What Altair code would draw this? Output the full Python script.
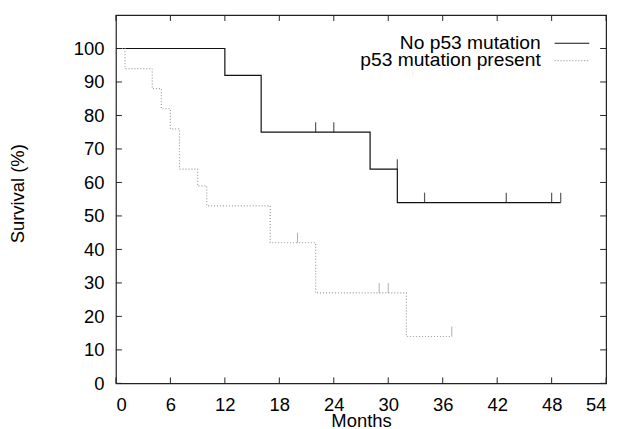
import altair as alt
import pandas as pd

# ---- data ----
x_ticks = [0, 6, 12, 18, 24, 30, 36, 42, 48, 54]
y_ticks = [0, 10, 20, 30, 40, 50, 60, 70, 80, 90, 100]
series = ["No p53 mutation", "p53 mutation present"]

no_t = [0, 12, 16, 28, 31, 49]
no_s = [100, 92, 75, 64, 54, 54]
no_cens_t = [22, 24, 31, 34, 43, 48, 49]
no_cens_s = [75, 75, 64, 54, 54, 54, 54]

mut_t = [0, 1, 4, 5, 6, 7, 9, 10, 17, 22, 32, 37]
mut_s = [100, 94, 88, 82, 76, 64, 59, 53, 42, 27, 14, 14]
mut_cens_t = [20, 29, 30, 37]
mut_cens_s = [42, 27, 27, 14]

W, H = 495, 372
FONT = "Liberation Sans"
FS = 18.6
FS_LEG = 19.4
C_SOLID = "#111111"
C_DOT = "#9a9a9a"

xs = alt.Scale(domain=[0, 54], nice=False, zero=False)
ys = alt.Scale(domain=[0, 110], nice=False, zero=False)
ax_x = alt.Axis(values=x_ticks, title="Months", titleY=29, labelPadding=12)
ax_y = alt.Axis(values=y_ticks, title="Survival (%)", titleX=-89, titleY=180, labelPadding=12)

def X(field):
    return alt.X(field, scale=xs, axis=ax_x)

def Y(field):
    return alt.Y(field, scale=ys, axis=ax_y)

df_no = pd.DataFrame({"t": no_t, "s": no_s})
df_mut = pd.DataFrame({"t": mut_t, "s": mut_s})
df_no_c = pd.DataFrame({"t": no_cens_t, "s": no_cens_s})
df_mut_c = pd.DataFrame({"t": mut_cens_t, "s": mut_cens_s})
df_xt = pd.DataFrame({"t": x_ticks})
df_yt = pd.DataFrame({"s": y_ticks})

line_no = alt.Chart(df_no).mark_line(
    interpolate="step-after", color=C_SOLID, strokeWidth=1.2
).encode(x=X("t:Q"), y=Y("s:Q"))

line_mut = alt.Chart(df_mut).mark_line(
    interpolate="step-after", color=C_DOT, strokeWidth=1.2, strokeDash=[1, 2]
).encode(x=X("t:Q"), y=Y("s:Q"))

cens_no = alt.Chart(df_no_c).mark_tick(
    orient="vertical", size=10, thickness=1.2, yOffset=-5, color=C_SOLID
).encode(x=X("t:Q"), y=Y("s:Q"))

cens_mut = alt.Chart(df_mut_c).mark_tick(
    orient="vertical", size=10, thickness=1, yOffset=-5, color=C_DOT, opacity=0.8
).encode(x=X("t:Q"), y=Y("s:Q"))

# inward tick marks on all four sides
xt_bottom = alt.Chart(df_xt).mark_rule(color="#222", strokeWidth=1).encode(
    x=X("t:Q"), y=alt.value(H), y2=alt.value(H - 6))
xt_top = alt.Chart(df_xt).mark_rule(color="#222", strokeWidth=1).encode(
    x=X("t:Q"), y=alt.value(0), y2=alt.value(6))
yt_left = alt.Chart(df_yt).mark_rule(color="#222", strokeWidth=1).encode(
    y=Y("s:Q"), x=alt.value(0), x2=alt.value(6))
yt_right = alt.Chart(df_yt).mark_rule(color="#222", strokeWidth=1).encode(
    y=Y("s:Q"), x=alt.value(W), x2=alt.value(W - 6))

# manual legend: label on the left, line sample on the right
leg1_text = alt.Chart(pd.DataFrame({"n": [series[0]]})).mark_text(
    align="right", baseline="alphabetic", font=FONT, fontSize=FS_LEG, color="black"
).encode(text="n:N", x=alt.value(429), y=alt.value(34))
leg2_text = alt.Chart(pd.DataFrame({"n": [series[1]]})).mark_text(
    align="right", baseline="alphabetic", font=FONT, fontSize=FS_LEG, color="black"
).encode(text="n:N", x=alt.value(429), y=alt.value(51))
leg1_line = alt.Chart(pd.DataFrame({"n": [series[0]]})).mark_rule(
    color=C_SOLID, strokeWidth=1.2
).encode(x=alt.value(443), x2=alt.value(478), y=alt.value(28.5))
leg2_line = alt.Chart(pd.DataFrame({"n": [series[1]]})).mark_rule(
    color=C_DOT, strokeWidth=1.2, strokeDash=[1, 2]
).encode(x=alt.value(443), x2=alt.value(478), y=alt.value(46))

chart = alt.layer(
    line_no, line_mut, cens_mut, cens_no,
    xt_bottom, xt_top, yt_left, yt_right,
    leg1_text, leg2_text, leg1_line, leg2_line,
).properties(
    width=W, height=H,
    background="white",
    autosize=alt.AutoSizeParams(type="none"),
    padding={"left": 109, "top": 5, "right": 10, "bottom": 44},
).configure_view(
    stroke="#222", strokeWidth=1.2
).configure_axis(
    labelFont=FONT, labelFontSize=FS, labelColor="black",
    titleFont=FONT, titleFontSize=FS, titleFontWeight="normal", titleColor="black",
    ticks=False, tickSize=0, domain=False, grid=False,
)

chart.save("out.html", embed_options={"renderer": "svg", "actions": False})
